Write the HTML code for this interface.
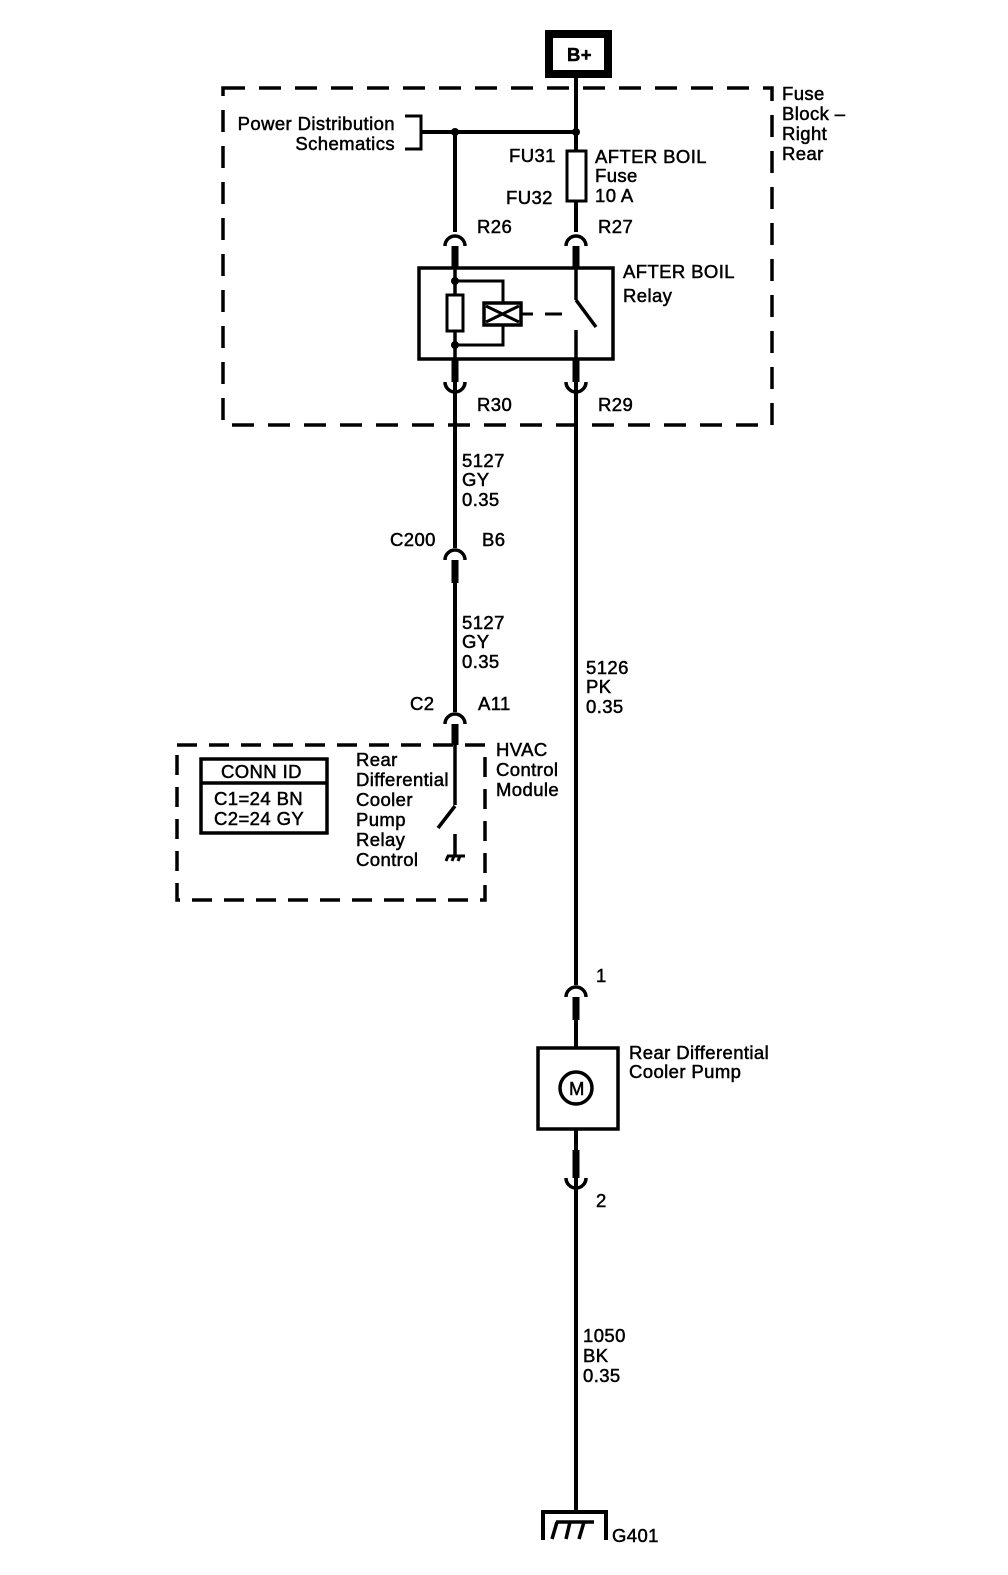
<!DOCTYPE html>
<html><head><style>
html,body{margin:0;padding:0;background:#fff}
svg text{font-family:"Liberation Sans",Arial,sans-serif;font-size:18.5px;fill:#000;stroke:#000;stroke-width:0.5px;letter-spacing:0.4px}
</style></head><body>
<svg width="1008" height="1570" viewBox="0 0 1008 1570" xmlns="http://www.w3.org/2000/svg">
<g fill="none" stroke="#000">
<rect x="549" y="34" width="59" height="40" stroke-width="8"/>
<rect x="223" y="88" width="549" height="337" stroke-width="3.5" stroke-dasharray="22,14"/>
<rect x="177" y="745" width="308" height="155" stroke-width="3.5" stroke-dasharray="20,12"/>
<line x1="576" y1="78" x2="576" y2="150" stroke-width="4"/>
<line x1="576" y1="202" x2="576" y2="232" stroke-width="4"/>
<line x1="420" y1="132" x2="576" y2="132" stroke-width="4"/>
<line x1="455" y1="132" x2="455" y2="232" stroke-width="4"/>
<path d="M405,116 H421 V149 H405" stroke-width="3"/>
<rect x="567" y="151" width="19" height="50" stroke-width="3"/>
<path d="M445,246 A10,10 0 0 1 465,246" stroke-width="3.5"/>
<path d="M566,246 A10,10 0 0 1 586,246" stroke-width="3.5"/>
<line x1="455" y1="246" x2="455" y2="268" stroke-width="7"/>
<line x1="576" y1="246" x2="576" y2="268" stroke-width="7"/>
<rect x="419" y="268" width="194" height="91" stroke-width="3.5"/>
<line x1="455" y1="268" x2="455" y2="359" stroke-width="3.5"/>
<rect x="447" y="295" width="16" height="36" fill="#fff" stroke-width="3"/>
<path d="M455,281 H503 V345 H455" stroke-width="3"/>
<rect x="484" y="303" width="37" height="22" fill="#fff" stroke-width="3.5"/>
<path d="M486,306 L519,322 M486,322 L519,306" stroke-width="3"/>
<line x1="521" y1="314" x2="533" y2="314" stroke-width="3"/>
<line x1="545" y1="314" x2="562" y2="314" stroke-width="3"/>
<line x1="576" y1="268" x2="576" y2="300" stroke-width="3.5"/>
<line x1="576" y1="300" x2="596" y2="327" stroke-width="3.5"/>
<line x1="576" y1="330" x2="576" y2="359" stroke-width="3.5"/>
<line x1="455" y1="359" x2="455" y2="382" stroke-width="7"/>
<line x1="576" y1="359" x2="576" y2="382" stroke-width="7"/>
<path d="M445,382 A10,10 0 0 0 465,382" stroke-width="3.5"/>
<path d="M566,382 A10,10 0 0 0 586,382" stroke-width="3.5"/>
<line x1="455" y1="382" x2="455" y2="548" stroke-width="4"/>
<line x1="576" y1="382" x2="576" y2="985" stroke-width="4"/>
<path d="M445,560 A10,10 0 0 1 465,560" stroke-width="3.5"/>
<line x1="455" y1="560" x2="455" y2="583" stroke-width="7"/>
<line x1="455" y1="583" x2="455" y2="712" stroke-width="4"/>
<path d="M445,724 A10,10 0 0 1 465,724" stroke-width="3.5"/>
<line x1="455" y1="724" x2="455" y2="745" stroke-width="7"/>
<line x1="455" y1="745" x2="455" y2="805" stroke-width="3.5"/>
<line x1="455" y1="806" x2="438" y2="828" stroke-width="3.5"/>
<line x1="455" y1="834" x2="455" y2="855" stroke-width="3.5"/>
<path d="M447,856 H465 M448,856 L446,861 M454,856 L452,861 M460,856 L458,861" stroke-width="3"/>
<rect x="201" y="759" width="126" height="74" stroke-width="3.5"/>
<line x1="201" y1="783" x2="327" y2="783" stroke-width="3.5"/>
<path d="M566,997 A10,10 0 0 1 586,997" stroke-width="3.5"/>
<line x1="576" y1="997" x2="576" y2="1020" stroke-width="7"/>
<line x1="576" y1="1020" x2="576" y2="1048" stroke-width="4"/>
<rect x="538" y="1048" width="80" height="81" stroke-width="3.5"/>
<circle cx="576" cy="1088" r="16" stroke-width="3.5"/>
<line x1="576" y1="1129" x2="576" y2="1150" stroke-width="4"/>
<line x1="576" y1="1150" x2="576" y2="1178" stroke-width="7"/>
<path d="M566,1178 A10,10 0 0 0 586,1178" stroke-width="3.5"/>
<line x1="576" y1="1178" x2="576" y2="1512" stroke-width="4"/>
<path d="M543,1540 V1512 H606 V1540" stroke-width="4"/>
<path d="M556,1522 H594 M557,1522 L552,1539 M570,1522 L566,1539 M584,1522 L579,1539" stroke-width="3.5"/>
</g>
<circle cx="455" cy="132" r="4"/><circle cx="576" cy="132" r="4"/>
<circle cx="455" cy="281" r="4"/><circle cx="455" cy="345" r="4"/>
<text x="567" y="61" font-weight="bold">B+</text>
<text x="782" y="100">Fuse</text><text x="782" y="120">Block –</text><text x="782" y="140">Right</text><text x="782" y="160">Rear</text>
<text x="395" y="130" text-anchor="end">Power Distribution</text>
<text x="395" y="150" text-anchor="end">Schematics</text>
<text x="509" y="162">FU31</text><text x="506" y="204">FU32</text>
<text x="595" y="163">AFTER BOIL</text><text x="595" y="182">Fuse</text><text x="595" y="202">10 A</text>
<text x="477" y="233">R26</text><text x="598" y="233">R27</text>
<text x="623" y="278">AFTER BOIL</text><text x="623" y="302">Relay</text>
<text x="477" y="411">R30</text><text x="598" y="411">R29</text>
<text x="462" y="467">5127</text><text x="462" y="486">GY</text><text x="462" y="506">0.35</text>
<text x="390" y="546">C200</text><text x="482" y="546">B6</text>
<text x="462" y="629">5127</text><text x="462" y="648">GY</text><text x="462" y="668">0.35</text>
<text x="586" y="674">5126</text><text x="586" y="693">PK</text><text x="586" y="713">0.35</text>
<text x="410" y="710">C2</text><text x="478" y="710">A11</text>
<text x="496" y="756">HVAC</text><text x="496" y="776">Control</text><text x="496" y="796">Module</text>
<text x="356" y="766">Rear</text><text x="356" y="786">Differential</text><text x="356" y="806">Cooler</text><text x="356" y="826">Pump</text><text x="356" y="846">Relay</text><text x="356" y="866">Control</text>
<text x="221" y="778">CONN ID</text>
<text x="214" y="805">C1=24 BN</text><text x="214" y="825">C2=24 GY</text>
<text x="596" y="982">1</text>
<text x="629" y="1059">Rear Differential</text><text x="629" y="1078">Cooler Pump</text>
<text x="569" y="1095" font-size="15">M</text>
<text x="596" y="1207">2</text>
<text x="583" y="1342">1050</text><text x="583" y="1362">BK</text><text x="583" y="1382">0.35</text>
<text x="612" y="1542">G401</text>
</svg>
</body></html>
